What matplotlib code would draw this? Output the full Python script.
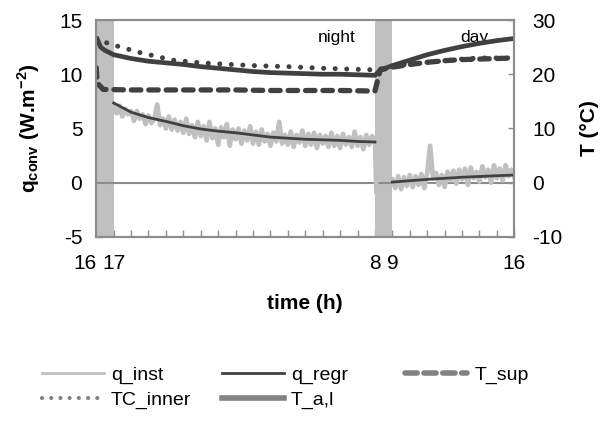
import numpy as np
import matplotlib
matplotlib.use("Agg")
import matplotlib.pyplot as plt
from matplotlib.lines import Line2D
from matplotlib.ticker import MultipleLocator

plt.rcParams['font.family'] = ['Liberation Sans', 'DejaVu Sans']
plt.rcParams['mathtext.fontset'] = 'custom'
plt.rcParams['mathtext.rm'] = 'Liberation Sans'
plt.rcParams['mathtext.bf'] = 'Liberation Sans:bold'
plt.rcParams['axes.unicode_minus'] = False

# time axis: hours counted from midnight of the first day (16h -> 40h = 16h next day)
night_t0, night_step = 17.0, 1 / 6
q_inst_night = [
    7.0, 6.4, 7.1, 6.1, 6.8, 6.3,
    6.6, 5.7, 6.6, 5.9, 6.3, 5.4,
    6.2, 5.5, 5.9, 7.2, 5.3, 5.9,
    5.0, 6.1, 4.9, 5.8, 4.8, 5.6,
    4.6, 5.9, 4.5, 5.3, 4.2, 5.6,
    4.3, 5.2, 3.9, 5.6, 4.1, 5.0,
    3.5, 5.1, 4.2, 5.4, 3.4, 4.9,
    4.0, 5.0, 3.6, 4.8, 3.9, 5.2,
    3.6, 4.7, 3.5, 4.9, 3.8, 4.5,
    3.4, 4.6, 3.8, 5.6, 3.6, 4.4,
    3.5, 4.7, 3.3, 4.4, 3.7, 4.8,
    3.4, 4.5, 3.5, 4.6, 3.2, 4.4,
    3.6, 4.3, 3.3, 4.6, 3.4, 4.3,
    3.2, 4.5, 3.5, 4.2, 3.3, 4.7,
    3.4, 4.2, 3.1, 4.4, 3.5, 4.3,
    3.9, -0.8,
]
day_t0, day_step = 33.0, 1 / 6
q_inst_day = [
    0.3, -0.5, 0.6, -0.6, 0.5, -0.3,
    0.7, -0.4, 0.6, -0.2, 0.8, -0.5,
    0.9, 3.4, 0.4, 0.9, -0.2, 0.7,
    -0.4, 1.0, 0.2, 1.1, -0.1, 1.2,
    0.3, 1.3, -0.2, 1.4, 0.4, 1.0,
    0.1, 1.5, 0.5, 1.2, 0.0, 1.6,
    0.4, 1.3, 0.2, 1.6, 0.6, 1.2,
    0.5,
]

regr_night_t = [17, 18, 19, 20, 21, 22, 23, 24, 25, 26, 27, 28, 29, 30, 31, 32]
q_regr_night = [7.35, 6.5, 6.0, 5.65, 5.25, 4.95, 4.75, 4.6, 4.4, 4.2, 4.1, 4.0, 3.95, 3.9, 3.8, 3.75]
regr_day_t = [33, 34, 35, 36, 37, 38, 39, 40]
q_regr_day = [0.05, 0.18, 0.3, 0.4, 0.5, 0.57, 0.64, 0.7]

tal_t = [16, 16.25, 16.5, 17, 18, 19, 20, 21, 22, 23, 24, 25, 26, 27, 28, 29, 30, 31, 32,
         32.25, 32.5, 33, 34, 35, 36, 37, 38, 39, 40]
T_al = [26.9, 25.0, 24.4, 23.6, 22.9, 22.4, 22.1, 21.8, 21.4, 21.1, 20.8, 20.5, 20.3, 20.2,
        20.1, 20.0, 20.0, 19.9, 19.8, 20.6, 21.0, 21.6, 22.6, 23.6, 24.4, 25.1, 25.7, 26.2, 26.6]

tsup_t = [16, 16.05, 16.4, 18, 20, 22, 24, 26, 28, 30, 32, 32.3, 33, 34, 35, 36, 37, 38, 39, 40]
T_sup = [21.2, 18.4, 17.2, 17.1, 17.1, 17.1, 17.1, 17.0, 17.0, 17.0, 16.9, 20.8, 21.3, 21.8,
         22.2, 22.5, 22.7, 22.8, 22.9, 23.0]

tc_t = [16.6, 17.2, 18.5, 20.4, 22, 23.7, 25, 27, 29, 31, 32, 33, 34, 35, 36, 37, 38, 39, 40]
TC_inner = [25.8, 25.2, 24.0, 22.6, 22.1, 21.8, 21.6, 21.4, 21.1, 20.9, 20.8, 21.4, 21.9,
            22.2, 22.5, 22.8, 23.0, 23.0, 23.0]

tick_pos = [16, 17, 32, 33, 40]
tick_lbl = ['16', '17', '8', '9', '16']

light = '#c0c0c0'
dark = '#404040'
mid = '#828282'
frame = '#8c8c8c'

fig = plt.figure(figsize=(6.13, 4.26), dpi=100)
ax = fig.add_axes([0.157, 0.444, 0.682, 0.509])
ax2 = ax.twinx()

# shaded transition hours
ax.axvspan(16, 17, color=light, lw=0, zorder=2)
ax.axvspan(32, 33, color=light, lw=0, zorder=2)
ax.axhline(0, color=frame, lw=1.5, zorder=2.2)

t_night = night_t0 + night_step * np.arange(len(q_inst_night))
t_night[-1] = 32.08
t_day = day_t0 + day_step * np.arange(len(q_inst_day))
ax.plot(t_night, q_inst_night, color=light, lw=3.4, zorder=3)
ax.plot(t_day, q_inst_day, color=light, lw=3.4, zorder=3)
ax.plot(regr_night_t, q_regr_night, color=dark, lw=2.0, zorder=4)
ax.plot(regr_day_t, q_regr_day, color=dark, lw=2.0, zorder=4)

ax2.plot(tsup_t, T_sup, color=dark, lw=3.8, dashes=(1.8, 1.5), dash_capstyle='round')
ax2.plot(tc_t, TC_inner, color=dark, lw=3.6, dashes=(0.01, 2.3), dash_capstyle='round')
ax2.plot(tal_t, T_al, color=dark, lw=3.4, solid_capstyle='butt')

ax.text(29.8, 13.4, 'night', fontsize=12.5, ha='center', va='center', zorder=6)
ax.text(37.7, 13.4, 'day', fontsize=12.5, ha='center', va='center', zorder=6)

ax.set_xlim(16, 40)
ax.set_ylim(-5, 15)
ax2.set_ylim(-10, 30)
ax.set_yticks([-5, 0, 5, 10, 15])
ax2.set_yticks([-10, 0, 10, 20, 30])
ax.set_xticks(tick_pos)
ax.set_xticklabels(tick_lbl)
ax.xaxis.set_minor_locator(MultipleLocator(1))

ax.tick_params(axis='x', which='both', direction='in', length=5, width=1, color=frame,
               labelsize=15, pad=12)
ax.tick_params(axis='y', direction='in', length=4, width=1, color=frame, labelsize=15, pad=10)
ax2.tick_params(axis='y', direction='in', length=4, width=1, color=frame, labelsize=15, pad=13)
ax.get_xticklabels()[0].set_horizontalalignment('right')

for a in (ax, ax2):
    for s in a.spines.values():
        s.set_color(frame)
        s.set_linewidth(1.5)

ax.set_xlabel('time (h)', fontsize=15, fontweight='bold')
ax.xaxis.set_label_coords(0.5, -0.265)
ax.set_ylabel(r'$\mathbf{q_{conv}}$ (W.m$^{\mathbf{-2}}$)', fontsize=15, fontweight='bold')
ax.yaxis.set_label_coords(-0.13, 0.5)
ax2.set_ylabel('T (°C)', fontsize=15, fontweight='bold')
ax2.yaxis.set_label_coords(1.157, 0.5)

# legend laid out as three fixed columns
h_inst = Line2D([], [], color=light, lw=2)
h_regr = Line2D([], [], color=dark, lw=2)
h_sup = Line2D([], [], color=mid, lw=4, dashes=(2.2, 1.2), dash_capstyle='round')
h_tc = Line2D([], [], color=mid, lw=3, dashes=(0.01, 2.2), dash_capstyle='round')
h_al = Line2D([], [], color=mid, lw=4)
columns = [
    (0.068, [h_inst, h_tc], ['q_inst', 'TC_inner']),
    (0.362, [h_regr, h_al], ['q_regr', 'T_a,l']),
    (0.661, [h_sup], ['T_sup']),
]
for x0, hs, labels in columns:
    fig.legend(hs, labels, loc='upper left', bbox_to_anchor=(x0, 0.14), frameon=False,
               fontsize=14, handlelength=3.2, handletextpad=0.35, labelspacing=0.35,
               borderpad=0, borderaxespad=0)

fig.savefig('out.png', dpi=100)
